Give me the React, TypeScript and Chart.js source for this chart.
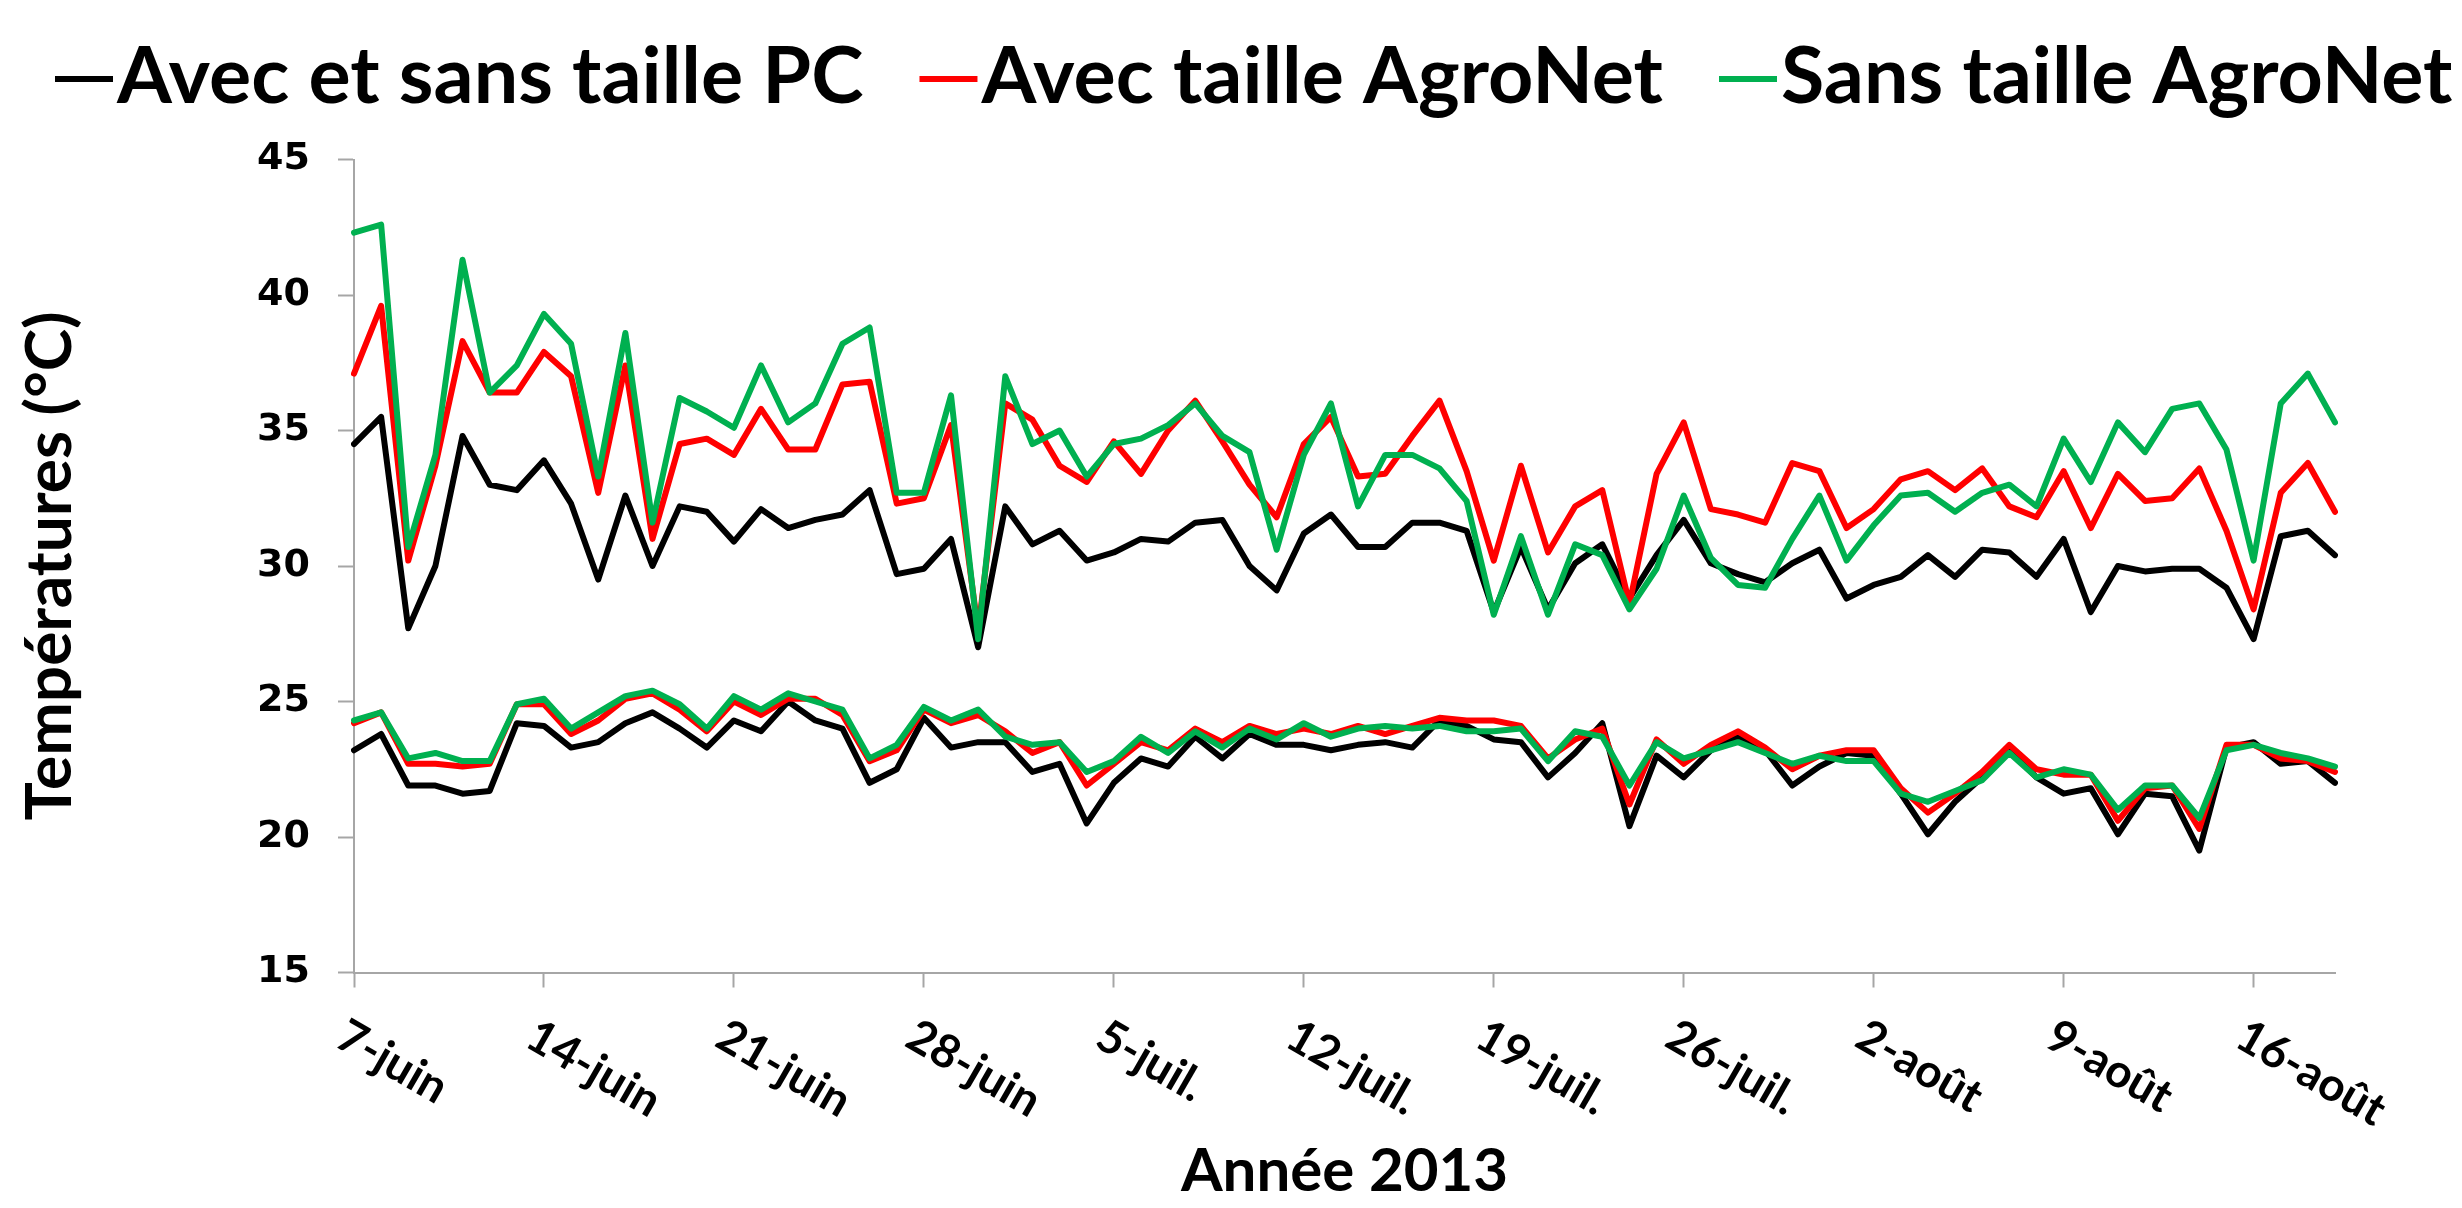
import React, { useEffect, useRef } from 'react';
import { Chart, registerables } from 'chart.js';

Chart.register(...registerables);

// ---- Categories (daily, 7 June -> 19 August 2013) ----
const monthSpans = [
  { name: 'juin', from: 7, to: 30 },
  { name: 'juil.', from: 1, to: 31 },
  { name: 'août', from: 1, to: 19 },
];
const categories: string[] = [];
monthSpans.forEach((m) => {
  for (let d = m.from; d <= m.to; d++) categories.push(`${d}-${m.name}`);
});

const seriesNames = ['Avec et sans taille PC', 'Avec taille AgroNet', 'Sans taille AgroNet'];
const seriesColors = ['#000000', '#FF0000', '#00B050'];
const xTitle = 'Année 2013';
const yTitle = 'Températures (°C)';
const yTicks = [15, 20, 25, 30, 35, 40, 45];

// ---- Maximum temperatures ----
const pcMax = [
  34.5, 35.5, 27.7, 30.0, 34.8, 33.0, 32.8, 33.9, 32.3, 29.5, 32.6, 30.0, 32.2, 32.0,
  30.9, 32.1, 31.4, 31.7, 31.9, 32.8, 29.7, 29.9, 31.0, 27.0, 32.2, 30.8, 31.3, 30.2,
  30.5, 31.0, 30.9, 31.6, 31.7, 30.0, 29.1, 31.2, 31.9, 30.7, 30.7, 31.6, 31.6, 31.3,
  28.3, 30.7, 28.4, 30.1, 30.8, 28.8, 30.4, 31.7, 30.1, 29.7, 29.4, 30.1, 30.6, 28.8,
  29.3, 29.6, 30.4, 29.6, 30.6, 30.5, 29.6, 31.0, 28.3, 30.0, 29.8, 29.9, 29.9, 29.2,
  27.3, 31.1, 31.3, 30.4,
];
const avecMax = [
  37.1, 39.6, 30.2, 33.7, 38.3, 36.4, 36.4, 37.9, 37.0, 32.7, 37.4, 31.0, 34.5, 34.7,
  34.1, 35.8, 34.3, 34.3, 36.7, 36.8, 32.3, 32.5, 35.2, 27.6, 36.0, 35.4, 33.7, 33.1,
  34.6, 33.4, 35.0, 36.1, 34.6, 33.0, 31.8, 34.5, 35.5, 33.3, 33.4, 34.8, 36.1, 33.5,
  30.2, 33.7, 30.5, 32.2, 32.8, 28.6, 33.4, 35.3, 32.1, 31.9, 31.6, 33.8, 33.5, 31.4,
  32.1, 33.2, 33.5, 32.8, 33.6, 32.2, 31.8, 33.5, 31.4, 33.4, 32.4, 32.5, 33.6, 31.3,
  28.4, 32.7, 33.8, 32.0,
];
const sansMax = [
  42.3, 42.6, 30.7, 34.1, 41.3, 36.4, 37.4, 39.3, 38.2, 33.3, 38.6, 31.6, 36.2, 35.7,
  35.1, 37.4, 35.3, 36.0, 38.2, 38.8, 32.7, 32.7, 36.3, 27.3, 37.0, 34.5, 35.0, 33.3,
  34.5, 34.7, 35.2, 36.0, 34.8, 34.2, 30.6, 34.1, 36.0, 32.2, 34.1, 34.1, 33.6, 32.4,
  28.2, 31.1, 28.2, 30.8, 30.4, 28.4, 29.9, 32.6, 30.3, 29.3, 29.2, 31.0, 32.6, 30.2,
  31.5, 32.6, 32.7, 32.0, 32.7, 33.0, 32.2, 34.7, 33.1, 35.3, 34.2, 35.8, 36.0, 34.3,
  30.2, 36.0, 37.1, 35.3,
];

// ---- Minimum temperatures ----
const pcMin = [
  23.2, 23.8, 21.9, 21.9, 21.6, 21.7, 24.2, 24.1, 23.3, 23.5, 24.2, 24.6, 24.0, 23.3,
  24.3, 23.9, 25.0, 24.3, 24.0, 22.0, 22.5, 24.4, 23.3, 23.5, 23.5, 22.4, 22.7, 20.5,
  22.0, 22.9, 22.6, 23.7, 22.9, 23.8, 23.4, 23.4, 23.2, 23.4, 23.5, 23.3, 24.3, 24.1,
  23.6, 23.5, 22.2, 23.1, 24.2, 20.4, 23.0, 22.2, 23.2, 23.7, 23.2, 21.9, 22.6, 23.1,
  23.0, 21.6, 20.1, 21.3, 22.2, 23.2, 22.2, 21.6, 21.8, 20.1, 21.6, 21.5, 19.5, 23.3,
  23.5, 22.7, 22.8, 22.0,
];
const avecMin = [
  24.2, 24.6, 22.7, 22.7, 22.6, 22.7, 24.9, 24.9, 23.8, 24.3, 25.1, 25.3, 24.7, 23.9,
  25.0, 24.5, 25.1, 25.1, 24.5, 22.8, 23.2, 24.7, 24.2, 24.5, 23.9, 23.1, 23.5, 21.9,
  22.7, 23.5, 23.2, 24.0, 23.5, 24.1, 23.8, 24.0, 23.8, 24.1, 23.8, 24.1, 24.4, 24.3,
  24.3, 24.1, 22.9, 23.6, 24.0, 21.2, 23.6, 22.7, 23.4, 23.9, 23.3, 22.5, 23.0, 23.2,
  23.2, 21.8, 20.9, 21.6, 22.4, 23.4, 22.5, 22.3, 22.3, 20.6, 21.8, 21.9, 20.3, 23.4,
  23.4, 22.9, 22.8, 22.4,
];
const sansMin = [
  24.3, 24.6, 22.9, 23.1, 22.8, 22.8, 24.9, 25.1, 24.0, 24.6, 25.2, 25.4, 24.9, 24.0,
  25.2, 24.7, 25.3, 25.0, 24.7, 22.9, 23.4, 24.8, 24.3, 24.7, 23.7, 23.4, 23.5, 22.4,
  22.8, 23.7, 23.1, 23.9, 23.3, 24.0, 23.6, 24.2, 23.7, 24.0, 24.1, 24.0, 24.1, 23.9,
  23.9, 24.0, 22.8, 23.9, 23.7, 21.9, 23.5, 22.9, 23.2, 23.5, 23.1, 22.7, 23.0, 22.8,
  22.8, 21.6, 21.3, 21.7, 22.1, 23.1, 22.2, 22.5, 22.3, 21.0, 21.9, 21.9, 20.7, 23.2,
  23.4, 23.1, 22.9, 22.6,
];

const W = 2462;
const H = 1208;
const AXIS_GREY = '#A6A6A6';

const customDraw = {
  id: 'customDraw',
  afterDraw(chart: any) {
    const ctx = chart.ctx as CanvasRenderingContext2D;
    ctx.save();
    // Legend (one entry per treatment)
    ctx.font = 'bold 79px Lato';
    ctx.textAlign = 'left';
    ctx.textBaseline = 'alphabetic';
    let x = 55;
    for (let k = 0; k < 3; k++) {
      const ds = chart.data.datasets[k];
      ctx.fillStyle = ds.borderColor;
      ctx.fillRect(x, 76, 58, 6);
      ctx.fillStyle = '#000000';
      ctx.fillText(ds.label, x + 62, 103);
      x += 62 + ctx.measureText(ds.label).width + 56;
    }
    // Rotated weekly x tick labels
    const xs = chart.scales.x;
    ctx.font = 'bold 46px Lato';
    ctx.textBaseline = 'top';
    ctx.fillStyle = '#000000';
    xs.ticks.forEach((t: any, i: number) => {
      if (i % 7 !== 0) return;
      const px = xs.getPixelForTick(i);
      ctx.save();
      ctx.translate(px - 2, xs.top + 40);
      ctx.rotate(Math.PI / 6);
      ctx.fillText(categories[i], 0, 0);
      ctx.restore();
    });
    ctx.restore();
  },
};

export default function App() {
  const ref = useRef<HTMLCanvasElement | null>(null);

  useEffect(() => {
    if (!ref.current) return;
    const mk = (label: string, data: number[], color: string, order: number) => ({
      label,
      data,
      borderColor: color,
      backgroundColor: color,
      borderWidth: 6,
      pointRadius: 0,
      tension: 0,
      fill: false,
      order,
      borderJoinStyle: 'round' as const,
      borderCapStyle: 'round' as const,
    });
    const chart = new Chart(ref.current, {
      type: 'line',
      data: {
        labels: categories,
        datasets: [
          mk(seriesNames[0], pcMax, seriesColors[0], 2),
          mk(seriesNames[1], avecMax, seriesColors[1], 1),
          mk(seriesNames[2], sansMax, seriesColors[2], 0),
          mk(seriesNames[0] + ' (min)', pcMin, seriesColors[0], 2),
          mk(seriesNames[1] + ' (min)', avecMin, seriesColors[1], 1),
          mk(seriesNames[2] + ' (min)', sansMin, seriesColors[2], 0),
        ],
      },
      options: {
        animation: false,
        responsive: false,
        devicePixelRatio: 1,
        layout: { padding: { top: 159.5, right: 127, bottom: 0, left: 0 } },
        plugins: {
          legend: { display: false },
          tooltip: { enabled: false },
        },
        scales: {
          x: {
            type: 'category',
            offset: false,
            border: { color: AXIS_GREY, width: 2 },
            grid: {
              drawOnChartArea: false,
              drawTicks: true,
              tickLength: 15,
              tickWidth: 2,
              tickColor: (c: any) => (c.index % 7 === 0 ? AXIS_GREY : 'rgba(0,0,0,0)'),
            },
            ticks: { display: false, autoSkip: false },
            title: {
              display: true,
              text: xTitle,
              color: '#000000',
              font: { family: 'Lato', weight: 'bold', size: 60 },
              padding: { top: 0, bottom: 0 },
            },
            afterFit: (s: any) => {
              s.height = H - 972.5;
            },
          },
          y: {
            min: yTicks[0],
            max: yTicks[yTicks.length - 1],
            border: { color: AXIS_GREY, width: 2 },
            grid: { drawOnChartArea: false, tickLength: 16, tickWidth: 2, tickColor: AXIS_GREY },
            ticks: {
              stepSize: 5,
              color: '#000000',
              padding: 28,
              font: { family: 'DejaVu Sans', weight: 'bold', size: 38 },
            },
            title: {
              display: true,
              text: yTitle,
              color: '#000000',
              font: { family: 'Lato', weight: 'bold', size: 64 },
              padding: { top: 12, bottom: 0 },
            },
            afterFit: (s: any) => {
              s.width = 354;
            },
          },
        },
      },
      plugins: [customDraw],
    });
    return () => chart.destroy();
  }, []);

  return (
    <div style={{ position: 'fixed', left: 0, top: 0, width: W, height: H, background: '#ffffff' }}>
      <canvas ref={ref} width={W} height={H} style={{ display: 'block', width: W, height: H }} />
    </div>
  );
}
